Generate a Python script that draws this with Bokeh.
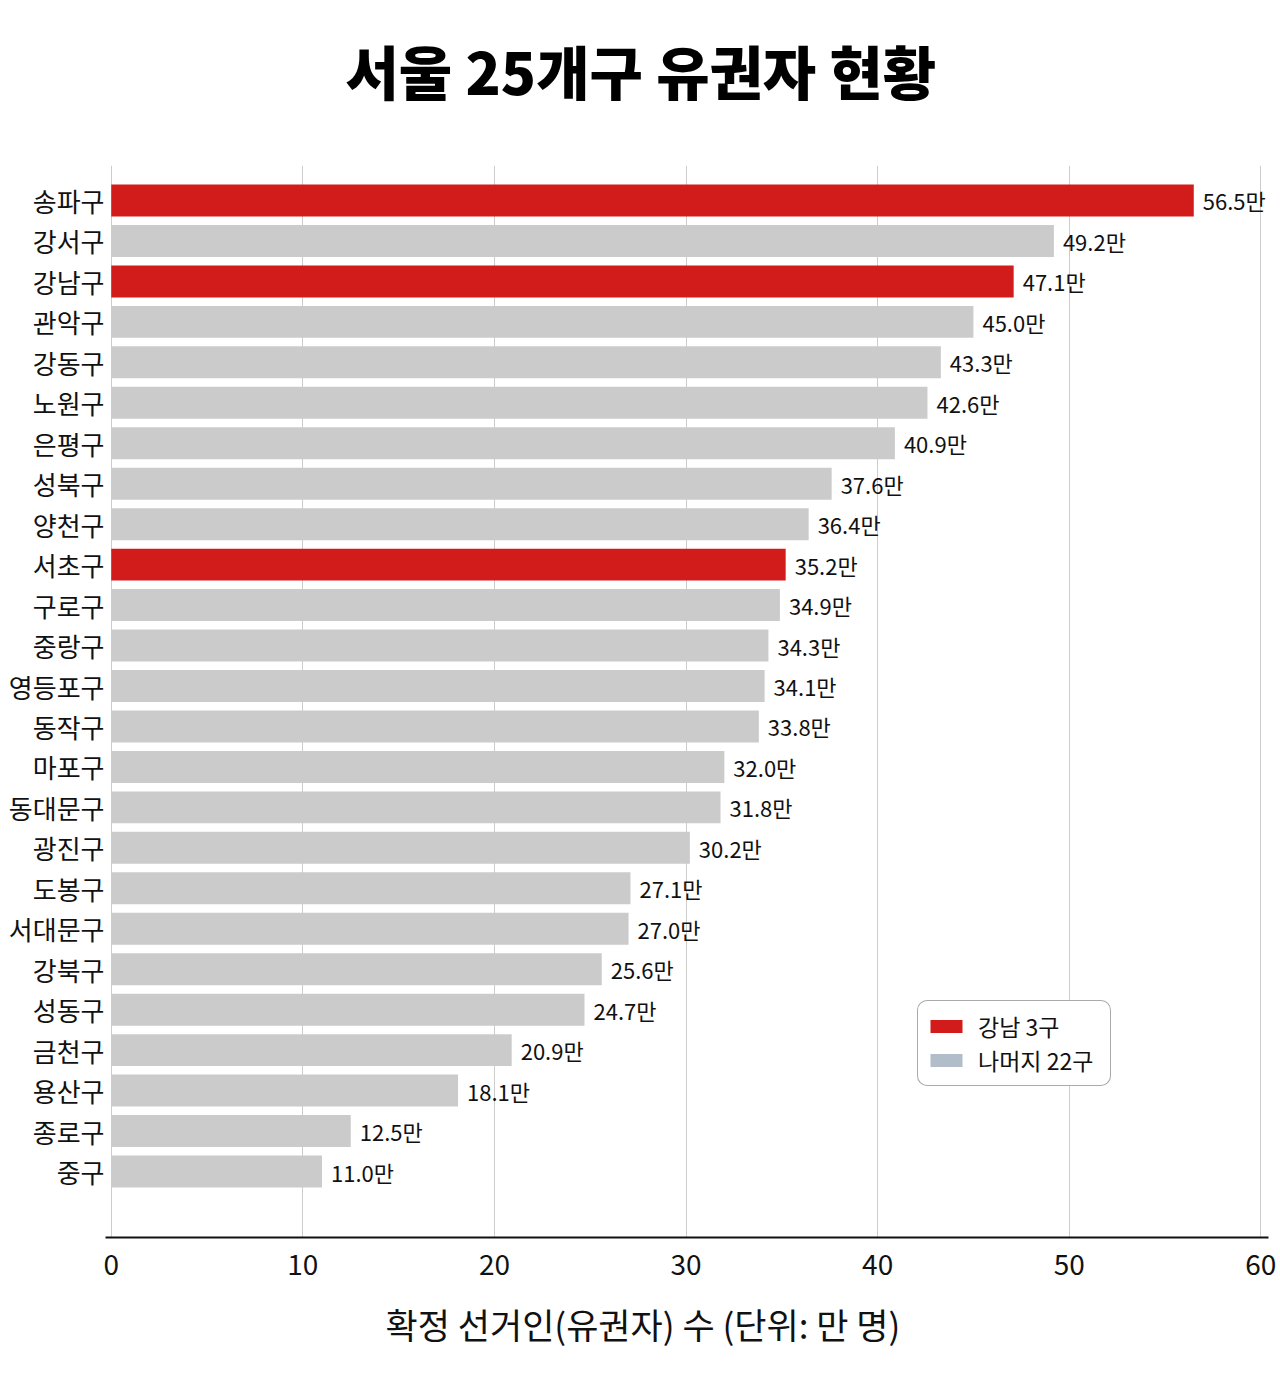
from bokeh.plotting import figure
from bokeh.models import (Range1d, FixedTicker, Title, Legend, LegendItem, ColumnDataSource)
from bokeh.core.properties import value
from bokeh.embed import file_html
from bokeh.resources import INLINE

districts = ["송파구", "강서구", "강남구", "관악구", "강동구", "노원구", "은평구", "성북구", "양천구",
             "서초구", "구로구", "중랑구", "영등포구", "동작구", "마포구", "동대문구", "광진구", "도봉구",
             "서대문구", "강북구", "성동구", "금천구", "용산구", "종로구", "중구"]
voters = [56.5, 49.2, 47.1, 45.0, 43.3, 42.6, 40.9, 37.6, 36.4, 35.2, 34.9, 34.3, 34.1, 33.8,
          32.0, 31.8, 30.2, 27.1, 27.0, 25.6, 24.7, 20.9, 18.1, 12.5, 11.0]
gangnam3 = ["송파구", "강남구", "서초구"]
x_ticks = [0, 10, 20, 30, 40, 50, 60]
legend_labels = ["강남 3구", "나머지 22구"]

RED = "#d21c1c"
GRAY = "#cbcbcb"
LEG_GRAY = "#b1bdc9"
FONT = "Noto Sans CJK KR"

pos = list(range(len(districts)))
colors = [RED if d in gangnam3 else GRAY for d in districts]
labels = [f"{v:.1f}만" for v in voters]

src = ColumnDataSource(dict(y=pos, v=voters, c=colors, lab=labels))

p = figure(width=1280, height=1379, output_backend="svg", toolbar_location=None,
           x_range=Range1d(-0.3, 60.4), y_range=Range1d(25.631, -0.865),
           min_border_left=105, min_border_right=12, min_border_bottom=142, min_border_top=165)

p.hbar(y="y", left=0, right="v", height=0.79, fill_color="c", line_color=None, source=src)
p.text(x="v", y="y", text="lab", source=src, x_offset=9, text_baseline="middle",
       text_align="left", text_font_size="22px", text_color="#111111", text_font=value(FONT))

# legend swatch renderers (zero-width, nothing visible in plot)
r1 = p.hbar(y=[0], left=[0], right=[0], height=0.5, fill_color=RED, line_color=None)
r2 = p.hbar(y=[0], left=[0], right=[0], height=0.5, fill_color=LEG_GRAY, line_color=None)
legend = Legend(items=[LegendItem(label=legend_labels[0], renderers=[r1]),
                       LegendItem(label=legend_labels[1], renderers=[r2])],
                location=(812, 151), orientation="vertical",
                glyph_width=40, glyph_height=16, label_text_font_size="23px",
                label_text_font=FONT, label_text_color="#111111", label_height=20,
                label_width=124,
                padding=8, spacing=0, margin=0, label_standoff=12,
                border_line_color="#555555", border_line_width=1,
                background_fill_color="white", background_fill_alpha=1)
try:
    legend.border_radius = 10
except Exception:
    pass
p.add_layout(legend)

p.outline_line_color = None
p.xgrid.ticker = FixedTicker(ticks=x_ticks)
p.xgrid.grid_line_color = "#cccccc"
p.xgrid.grid_line_width = 1
p.ygrid.grid_line_color = None

p.xaxis.ticker = FixedTicker(ticks=x_ticks)
p.xaxis.axis_line_color = "#111111"
p.xaxis.axis_line_width = 2
p.xaxis.major_tick_line_color = None
p.xaxis.minor_tick_line_color = None
p.xaxis.major_label_text_font_size = "28px"
p.xaxis.major_label_text_font = FONT
p.xaxis.major_label_text_color = "#111111"
p.xaxis.major_label_standoff = 10

p.yaxis.ticker = FixedTicker(ticks=pos)
p.yaxis.major_label_overrides = {i: d for i, d in zip(pos, districts)}
p.yaxis.axis_line_color = None
p.yaxis.major_tick_line_color = None
p.yaxis.minor_tick_line_color = None
p.yaxis.major_tick_in = 0
p.yaxis.major_tick_out = 0
p.yaxis.major_label_standoff = 1
p.yaxis.major_label_text_font_size = "26px"
p.yaxis.major_label_text_font = FONT
p.yaxis.major_label_text_color = "#111111"

# spacer between frame and title (above panels stack outward from the frame)
spacer = Title(text=" ", text_font_size="2px", standoff=50)
p.add_layout(spacer, "above")

p.title.text = "서울 25개구 유권자 현황"
p.title.align = "left"
p.title.offset = 240
p.title.text_font = "'Noto Sans CJK KR Black', 'Noto Sans CJK KR'"
p.title.text_font_size = "58px"
p.title.text_font_style = "bold"
p.title.text_color = "#000000"
p.title.standoff = 0

xlabel = Title(text="확정 선거인(유권자) 수 (단위: 만 명)", align="left", offset=280,
               text_font=FONT, text_font_size="35px", text_font_style="normal",
               text_color="#111111", standoff=36)
p.add_layout(xlabel, "below")

open("out.html", "w").write(file_html(p, INLINE))
